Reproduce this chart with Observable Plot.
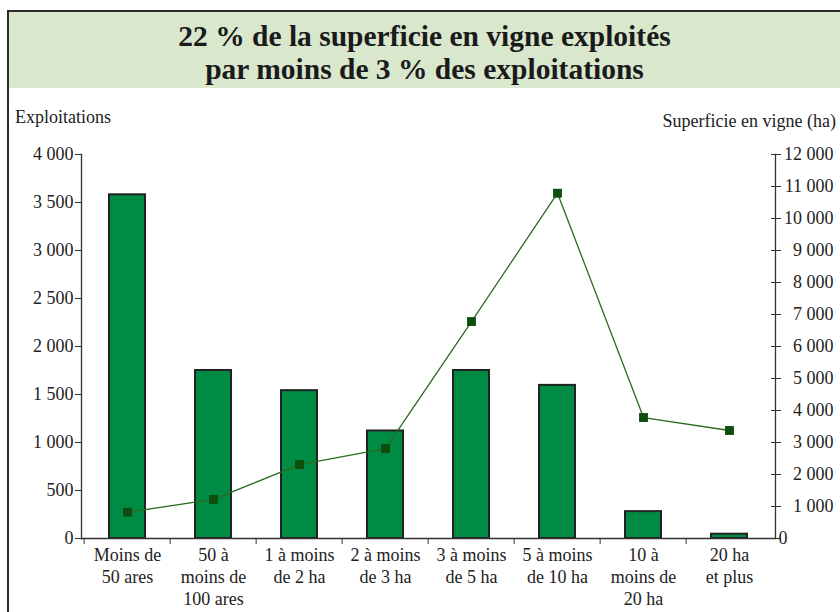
<!DOCTYPE html>
<html>
<head>
<meta charset="utf-8">
<script src="https://cdn.jsdelivr.net/npm/d3@7"></script>
<script src="https://cdn.jsdelivr.net/npm/@observablehq/plot@0.6"></script>
<style>
  body { margin: 0; background: #fff; }
  #wrap { position: relative; width: 840px; height: 612px; overflow: hidden;
          font-family: "Liberation Serif", "Times New Roman", serif; color: #222; }
  #frame { position: absolute; left: 7px; top: 10px; right: 0; bottom: 0;
           border-left: 2px solid #2a2a2a; border-top: 2px solid #2a2a2a; }
  #panel { position: absolute; left: 9px; top: 12px; right: 0; height: 76px; background: #d9e7cc; }
  #title { position: absolute; left: 9px; right: 0; top: 20px; text-align: center;
           font-family: "Liberation Serif", "Times New Roman", serif;
           font-weight: bold; font-size: 29.5px; line-height: 33px; color: #1a1a1a; }
  #plot { position: absolute; left: 0; top: 0; }
  .lab { position: absolute; font-size: 18px; line-height: 20px; color: #222; }
</style>
</head>
<body>
<div id="wrap">
  <div id="frame"></div>
  <div id="panel"></div>
  <div id="title">22 % de la superficie en vigne exploités<br>par moins de 3 % des exploitations</div>
  <div id="plot"></div>
  <div class="lab" style="left:15px; top:107px;">Exploitations</div>
  <div class="lab" style="right:4px; top:111px;">Superficie en vigne (ha)</div>
</div>
<script>
const categories = [
  "Moins de\n50 ares",
  "50 à\nmoins de\n100 ares",
  "1 à moins\nde 2 ha",
  "2 à moins\nde 3 ha",
  "3 à moins\nde 5 ha",
  "5 à moins\nde 10 ha",
  "10 à\nmoins de\n20 ha",
  "20 ha\net plus"
];
const exploitations = [3580, 1750, 1540, 1120, 1750, 1595, 280, 45];
const superficie = [820, 1220, 2310, 2810, 6780, 10790, 3780, 3375];
const leftTicks = [0, 500, 1000, 1500, 2000, 2500, 3000, 3500, 4000];
const rightTicks = [0, 1000, 2000, 3000, 4000, 5000, 6000, 7000, 8000, 9000, 10000, 11000, 12000];

const leftMax = leftTicks[leftTicks.length - 1];
const rightMax = rightTicks[rightTicks.length - 1];
const ratio = rightMax / leftMax;

const data = categories.map((c, i) => ({cat: c, exp: exploitations[i], sup: superficie[i]}));
const fmt = d => d3.format(",")(d).replace(/,/g, "\u00a0");

const W = 840, H = 612, mL = 81, mR = 65, mT = 154, mB = 74;
const step = (W - mL - mR) / categories.length;

const chart = Plot.plot({
  width: W, height: H,
  marginTop: mT, marginBottom: mB, marginLeft: mL, marginRight: mR,
  style: {fontFamily: "'Liberation Serif', 'Times New Roman', serif", fontSize: "18px", color: "#222", background: "transparent"},
  x: {domain: categories, paddingInner: 0.585, paddingOuter: 0.2925},
  y: {domain: [0, leftMax]},
  marks: [
    Plot.barY(data, {x: "cat", y: "exp", fill: "#008b45", stroke: "#222", strokeWidth: 2}),
    Plot.ruleY([0], {stroke: "#333", strokeWidth: 1.3}),
    Plot.frame({anchor: "left", stroke: "#333", strokeWidth: 1.3}),
    Plot.frame({anchor: "right", stroke: "#333", strokeWidth: 1.3}),
    Plot.axisX({tickSize: 6, dx: -step / 2, fill: "none", label: null, stroke: "#333"}),
    Plot.axisX({tickSize: 0, tickPadding: 7, lineHeight: 1.22, fill: "#222", label: null, tickFormat: d => d}),
    Plot.axisY({ticks: leftTicks, tickSize: 6, tickPadding: 2, tickFormat: fmt, label: null, stroke: "#333", fill: "#222"}),
    Plot.axisY({anchor: "right", ticks: rightTicks.map(d => d / ratio), tickSize: 10, dx: -5, fill: "none", label: null, stroke: "#333"}),
    Plot.text(rightTicks.filter(d => d > 0), {y: d => d / ratio, text: fmt, frameAnchor: "right", dx: 58, textAnchor: "end", fill: "#222"}),
    Plot.text(rightTicks.filter(d => d === 0), {y: d => d / ratio, text: fmt, frameAnchor: "right", dx: 3, textAnchor: "start", fill: "#222"}),
    Plot.line(data, {x: "cat", y: d => d.sup / ratio, stroke: "#2b6b1f", strokeWidth: 1.3}),
    Plot.dot(data, {x: "cat", y: d => d.sup / ratio, symbol: "square", r: 5, fill: "#0d4d0d", stroke: "none"})
  ]
});
document.getElementById("plot").appendChild(chart);
</script>
</body>
</html>
